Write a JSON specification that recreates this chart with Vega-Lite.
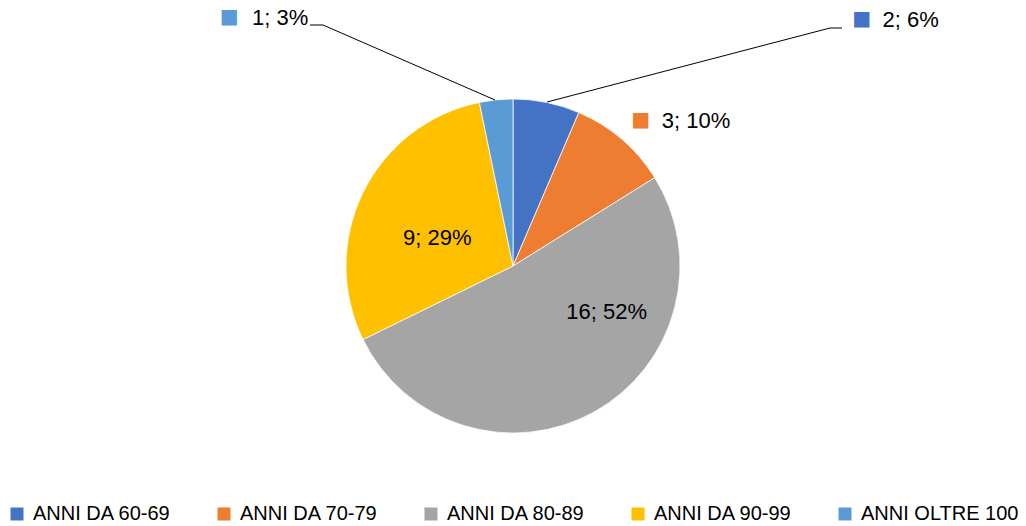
{
  "$schema": "https://vega.github.io/schema/vega-lite/v6.json",
  "width": 1026,
  "height": 532,
  "padding": 0,
  "autosize": "none",
  "background": "#ffffff",
  "config": {"view": {"stroke": null}, "font": "Liberation Sans"},
  "datasets": {
    "ages": [
      {"cat": "ANNI DA 60-69", "n": 2},
      {"cat": "ANNI DA 70-79", "n": 3},
      {"cat": "ANNI DA 80-89", "n": 16},
      {"cat": "ANNI DA 90-99", "n": 9},
      {"cat": "ANNI OLTRE 100", "n": 1}
    ],
    "leaders": [
      {"id": "a", "k": 0, "px": 310, "py": 25},
      {"id": "a", "k": 1, "px": 323, "py": 25},
      {"id": "a", "k": 2, "px": 495, "py": 100},
      {"id": "b", "k": 0, "px": 547, "py": 102},
      {"id": "b", "k": 1, "px": 830, "py": 28},
      {"id": "b", "k": 2, "px": 842, "py": 28}
    ]
  },
  "layer": [
    {
      "data": {"name": "ages"},
      "mark": {"type": "arc", "outerRadius": 167, "stroke": "#ffffff", "strokeWidth": 0.75},
      "encoding": {
        "theta": {"field": "n", "type": "quantitative", "stack": true},
        "order": {"field": "cat", "type": "ordinal", "sort": "ascending"},
        "color": {
          "field": "cat", "type": "nominal",
          "scale": {"domain": ["ANNI DA 60-69", "ANNI DA 70-79", "ANNI DA 80-89", "ANNI DA 90-99", "ANNI OLTRE 100"],
                    "range": ["#4472C4", "#ED7D31", "#A5A5A5", "#FFC000", "#5B9BD5"]},
          "legend": {"title": null, "orient": "none", "legendX": 7, "legendY": 504, "direction": "horizontal",
                     "symbolType": "square", "symbolSize": 169, "symbolStrokeWidth": 0,
                     "labelFontSize": 20, "labelFont": "Liberation Sans", "labelColor": "#000000",
                     "columnPadding": 43, "labelOffset": 6, "labelLimit": 300}
        }
      }
    },
    {
      "data": {"name": "ages"},
      "transform": [
        {"joinaggregate": [{"op": "sum", "field": "n", "as": "tot"}]},
        {"calculate": "datum.n + '; ' + round(100 * datum.n / datum.tot) + '%'", "as": "label"}
      ],
      "mark": {"type": "text", "radius": 167, "dx": 336, "dy": -82, "align": "left", "baseline": "middle", "fontSize": 22, "color": "#000000"},
      "encoding": {
        "theta": {"field": "n", "type": "quantitative", "stack": true},
        "order": {"field": "cat", "type": "ordinal", "sort": "ascending"},
        "text": {"condition": {"test": "datum.cat === 'ANNI DA 60-69'", "field": "label", "type": "nominal"}, "value": ""}
      }
    },
    {
      "data": {"name": "ages"},
      "transform": [
        {"joinaggregate": [{"op": "sum", "field": "n", "as": "tot"}]},
        {"calculate": "datum.n + '; ' + round(100 * datum.n / datum.tot) + '%'", "as": "label"}
      ],
      "mark": {"type": "text", "radius": 167, "dx": 40, "dy": -18, "align": "left", "baseline": "middle", "fontSize": 22, "color": "#000000"},
      "encoding": {
        "theta": {"field": "n", "type": "quantitative", "stack": true},
        "order": {"field": "cat", "type": "ordinal", "sort": "ascending"},
        "text": {"condition": {"test": "datum.cat === 'ANNI DA 70-79'", "field": "label", "type": "nominal"}, "value": ""}
      }
    },
    {
      "data": {"name": "ages"},
      "transform": [
        {"joinaggregate": [{"op": "sum", "field": "n", "as": "tot"}]},
        {"calculate": "datum.n + '; ' + round(100 * datum.n / datum.tot) + '%'", "as": "label"}
      ],
      "mark": {"type": "text", "radius": 90, "dx": 50, "dy": -33, "align": "center", "baseline": "middle", "fontSize": 22, "color": "#000000"},
      "encoding": {
        "theta": {"field": "n", "type": "quantitative", "stack": true},
        "order": {"field": "cat", "type": "ordinal", "sort": "ascending"},
        "text": {"condition": {"test": "datum.cat === 'ANNI DA 80-89'", "field": "label", "type": "nominal"}, "value": ""}
      }
    },
    {
      "data": {"name": "ages"},
      "transform": [
        {"joinaggregate": [{"op": "sum", "field": "n", "as": "tot"}]},
        {"calculate": "datum.n + '; ' + round(100 * datum.n / datum.tot) + '%'", "as": "label"}
      ],
      "mark": {"type": "text", "radius": 90, "dx": 5, "dy": 12, "align": "center", "baseline": "middle", "fontSize": 22, "color": "#000000"},
      "encoding": {
        "theta": {"field": "n", "type": "quantitative", "stack": true},
        "order": {"field": "cat", "type": "ordinal", "sort": "ascending"},
        "text": {"condition": {"test": "datum.cat === 'ANNI DA 90-99'", "field": "label", "type": "nominal"}, "value": ""}
      }
    },
    {
      "data": {"name": "ages"},
      "transform": [
        {"joinaggregate": [{"op": "sum", "field": "n", "as": "tot"}]},
        {"calculate": "datum.n + '; ' + round(100 * datum.n / datum.tot) + '%'", "as": "label"}
      ],
      "mark": {"type": "text", "radius": 167, "dx": -244, "dy": -82, "align": "left", "baseline": "middle", "fontSize": 22, "color": "#000000"},
      "encoding": {
        "theta": {"field": "n", "type": "quantitative", "stack": true},
        "order": {"field": "cat", "type": "ordinal", "sort": "ascending"},
        "text": {"condition": {"test": "datum.cat === 'ANNI OLTRE 100'", "field": "label", "type": "nominal"}, "value": ""}
      }
    },
    {
      "data": {"name": "ages"},
      "mark": {"type": "text", "radius": 167, "dx": 315, "dy": -83, "align": "center", "baseline": "middle", "fontSize": 20, "font": "DejaVu Sans"},
      "encoding": {
        "theta": {"field": "n", "type": "quantitative", "stack": true},
        "order": {"field": "cat", "type": "ordinal", "sort": "ascending"},
        "color": {"field": "cat", "type": "nominal", "legend": null},
        "text": {"condition": {"test": "datum.cat === 'ANNI DA 60-69'", "value": "■"}, "value": ""}
      }
    },
    {
      "data": {"name": "ages"},
      "mark": {"type": "text", "radius": 167, "dx": 19, "dy": -19, "align": "center", "baseline": "middle", "fontSize": 20, "font": "DejaVu Sans"},
      "encoding": {
        "theta": {"field": "n", "type": "quantitative", "stack": true},
        "order": {"field": "cat", "type": "ordinal", "sort": "ascending"},
        "color": {"field": "cat", "type": "nominal", "legend": null},
        "text": {"condition": {"test": "datum.cat === 'ANNI DA 70-79'", "value": "■"}, "value": ""}
      }
    },
    {
      "data": {"name": "ages"},
      "mark": {"type": "text", "radius": 167, "dx": -267, "dy": -83, "align": "center", "baseline": "middle", "fontSize": 20, "font": "DejaVu Sans"},
      "encoding": {
        "theta": {"field": "n", "type": "quantitative", "stack": true},
        "order": {"field": "cat", "type": "ordinal", "sort": "ascending"},
        "color": {"field": "cat", "type": "nominal", "legend": null},
        "text": {"condition": {"test": "datum.cat === 'ANNI OLTRE 100'", "value": "■"}, "value": ""}
      }
    },
    {
      "data": {"name": "leaders"},
      "mark": {"type": "line", "color": "#000000", "strokeWidth": 1},
      "encoding": {
        "x": {"field": "px", "type": "quantitative", "scale": {"domain": [0, 1026], "nice": false, "zero": false}, "axis": null},
        "y": {"field": "py", "type": "quantitative", "scale": {"domain": [0, 532], "nice": false, "zero": false, "reverse": true}, "axis": null},
        "detail": {"field": "id", "type": "nominal"},
        "order": {"field": "k", "type": "quantitative"}
      }
    }
  ]
}
